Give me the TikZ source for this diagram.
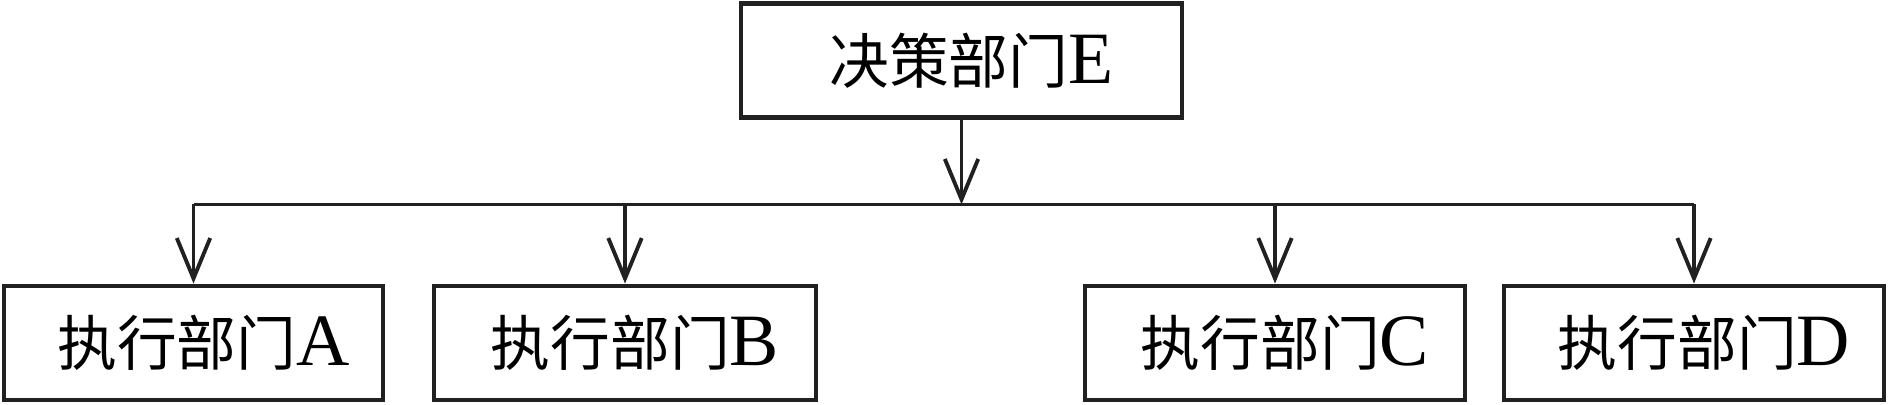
\documentclass[tikz,border=0pt]{standalone}
\usepackage{fontspec}
\setmainfont{Liberation Serif}
\newfontfamily\cjk{Noto Sans CJK SC}
\usetikzlibrary{arrows.meta,positioning}
\newcommand{\lat}[1]{{\fontsize{21}{24}\selectfont #1}}
\begin{document}
\begin{tikzpicture}
	\tikzstyle{every node}=[font=\fontsize{17}{20}\selectfont]
	\tikzstyle{dept}=[draw=black!87, line width=1.4pt, minimum width=3.8cm, minimum height=1.14cm, inner sep=0pt]
	\tikzstyle{link}=[draw=black!87, line width=1.1pt]
	\tikzstyle{arr}=[link, -{Straight Barb[length=11.5pt,width=9.5pt]}]
	\useasboundingbox (0,0) rectangle (18.88,-4.05);
	\node [dept, minimum width=4.41cm] (E) at (9.615,-0.605) {\hspace*{0.2cm}{\cjk 决策部门}\lat{E}};
	\node [dept, minimum width=3.79cm] (A) at (1.935,-3.43) {\hspace*{0.2cm}{\cjk 执行部门}\lat{A}};
	\node [dept, minimum width=3.82cm] (B) at (6.25,-3.43) {\hspace*{0.2cm}{\cjk 执行部门}\lat{B}};
	\node [dept] (C) at (12.75,-3.43) {\hspace*{0.2cm}{\cjk 执行部门}\lat{C}};
	\node [dept] (D) at (16.94,-3.43) {\hspace*{0.2cm}{\cjk 执行部门}\lat{D}};
	\coordinate (bus) at ([yshift=-0.845cm]E.south);
	\draw [arr] (E.south) -- (bus);
	\draw [link] (A.north |- bus) -- (D.north |- bus);
	\foreach \n in {A,B,C,D}
		\draw [arr] (\n.north |- bus) -- (\n.north);
\end{tikzpicture}
\end{document}
